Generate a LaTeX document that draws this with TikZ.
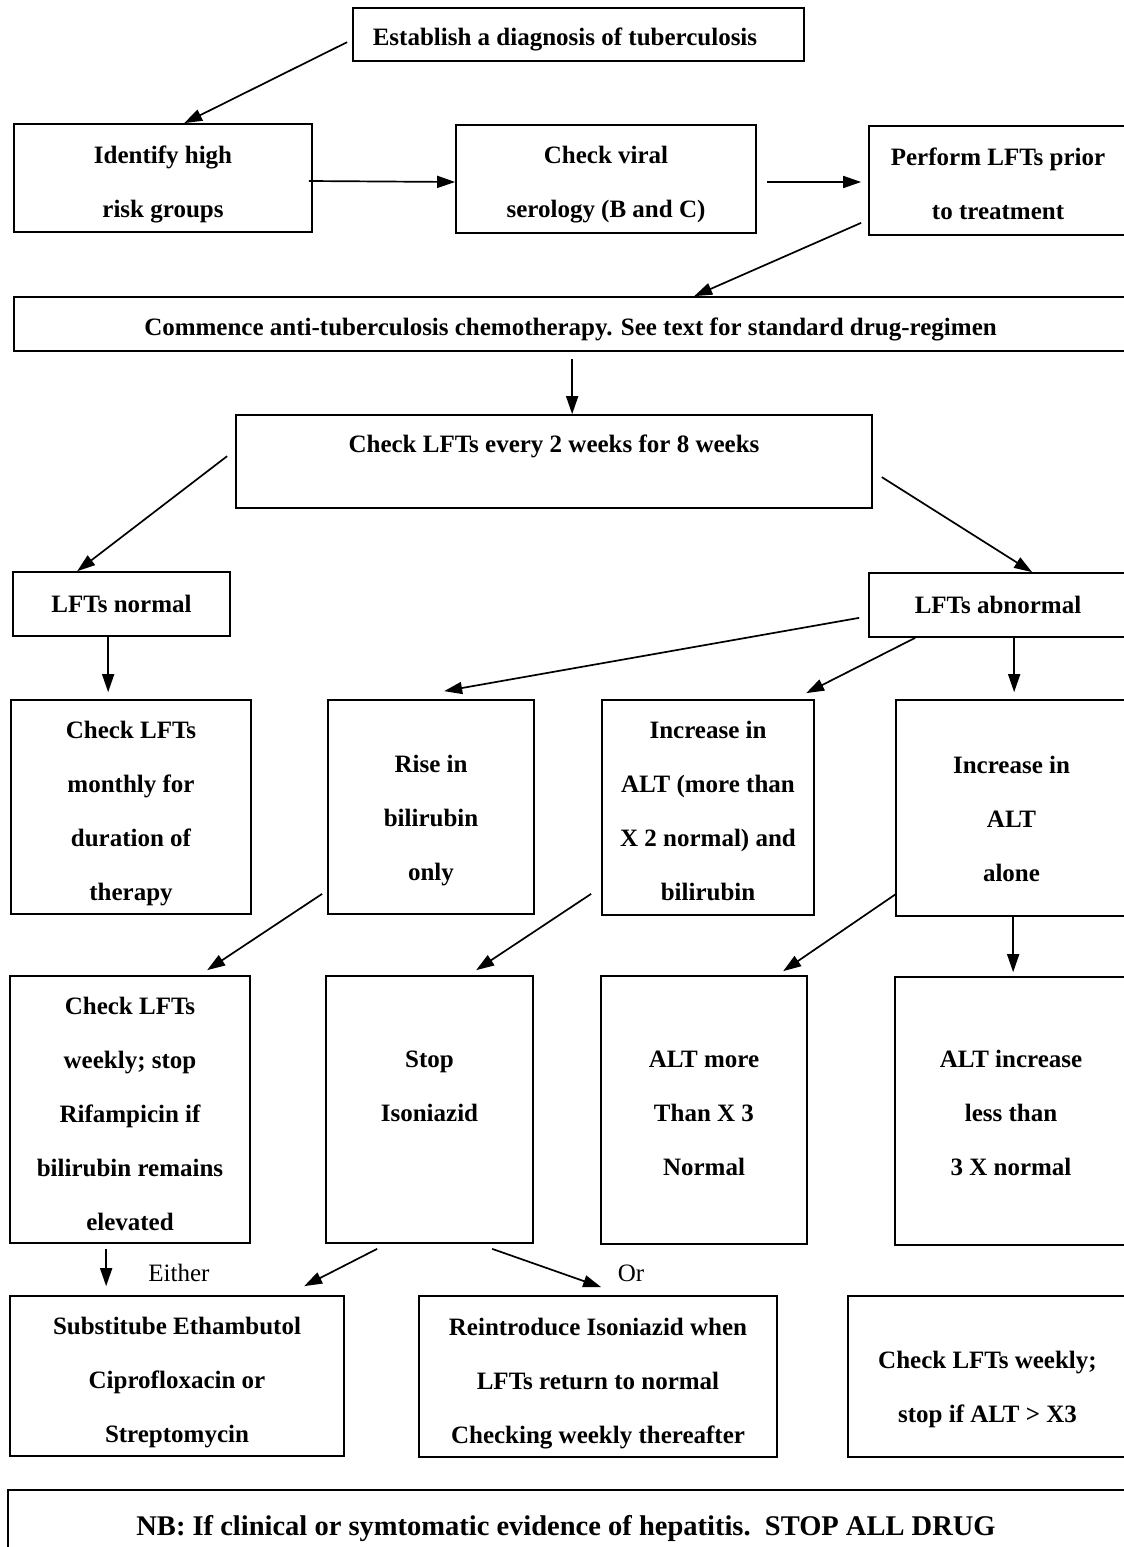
\documentclass[tikz,border=0pt]{standalone}
\usepackage{fontspec}
\setmainfont{Liberation Serif}
\usetikzlibrary{arrows.meta,calc}
\newcommand\bx[7]{\node[box,minimum width={(#4-#2)*1pt},minimum height={(#5-#3)*1pt}] (#1) at ({(#2+#4)/2},{(#3+#5)/2}) {};
  \node[lbl] (#1t) at ($(#1.center)+(0,#7)$) {#6};}
\begin{document}
\begin{tikzpicture}[x=1pt,y=-1pt,
  box/.style={draw,line width=1.7pt,inner sep=0pt},
  lbl/.style={inner sep=0pt,align=center,font=\bfseries\fontsize{25}{54}\selectfont},
  plain/.style={inner sep=0pt,font=\fontsize{25}{28}\selectfont},
  arr/.style={line width=1.7pt,-{Triangle[length=18pt,width=12pt]}}]
\useasboundingbox[fill=white] (0,0) rectangle (1124,1547);

\bx{b1}{353}{8}{804}{61}{}{0}
\node[lbl] (t1) at (565,39) {Establish a diagnosis of tuberculosis};
\bx{b2}{14}{124}{312}{232}{Identify high\\risk groups}{6}
\bx{b3}{456}{125}{756}{233}{Check viral\\serology (B and C)}{6}
\bx{b4}{869}{126}{1127}{235}{Perform LFTs prior\\to treatment}{3}
\bx{b5}{14}{297}{1127}{351}{Commence anti-tuberculosis chemotherapy. See text for standard drug-regimen}{5}
\bx{b6}{236}{415}{872}{508}{}{0}
\node[lbl] (t6) at (554,446) {Check LFTs every 2 weeks for 8 weeks};
\bx{b7}{13}{572}{230}{636}{LFTs normal}{0}
\bx{b8}{869}{573}{1127}{637}{LFTs abnormal}{0}
\bx{b9}{11}{700}{251}{914}{Check LFTs\\monthly for\\duration of\\therapy}{7}
\bx{b10}{328}{700}{534}{914}{Rise in\\bilirubin\\only}{14}
\bx{b11}{602}{700}{814}{915}{Increase in\\ALT (more than\\X 2 normal) and\\bilirubin}{3}
\bx{b12}{896}{700}{1127}{916}{Increase in\\ALT\\alone}{11}
\bx{b13}{10}{976}{250}{1243}{Check LFTs\\weekly; stop\\Rifampicin if\\bilirubin remains\\elevated}{4}
\bx{b14}{326}{976}{533}{1243}{\strut\\Stop\\Isoniazid\\\strut\\\strut}{1}
\bx{b15}{601}{976}{807}{1244}{ALT more\\Than X 3\\Normal}{3}
\bx{b16}{895}{977}{1127}{1245}{ALT increase\\less than\\3 X normal}{2}
\bx{b17}{10}{1296}{344}{1456}{Substitube Ethambutol\\Ciprofloxacin or\\Streptomycin}{7}
\bx{b18}{419}{1296}{777}{1457}{Reintroduce Isoniazid when\\LFTs return to normal\\Checking weekly thereafter}{7}
\bx{b19}{848}{1296}{1127}{1457}{Check LFTs weekly;\\stop if ALT > X3}{13}
\bx{b20}{8}{1490}{1127}{1570}{}{0}
\node[lbl,font=\bfseries\fontsize{28.5}{32}\selectfont] (t20) at (566,1529) {NB: If clinical or symtomatic evidence of hepatitis.\ \ STOP ALL DRUG};

\node[plain] (either) at (179,1273) {Either};
\node[plain] (or) at (631,1273) {Or};

\draw[arr] ($(b1.north west)+(-5,35)$) -- ($(b2.north west)+(171,0)$);
\draw[arr] ($(b2.east)+(-4,3)$) -- ($(b3.west)+(0,3)$);
\draw[arr] ($(b3.east)+(10,3)$) -- ($(b4.west)+(-7,1.5)$);
\draw[arr] ($(b4.south west)+(-7,-13)$) -- ($(b5.north west)+(681,0)$);
\draw[arr] ($(b5.south west)+(559,7)$) -- ($(b6.north west)+(337,0)$);
\draw[arr] ($(b6.north west)+(-8,42)$) -- ($(b7.north west)+(65,0)$);
\draw[arr] ($(b6.north east)+(9,63)$) -- ($(b8.north west)+(164,0)$);
\draw[arr] ($(b7.south west)+(96,0)$) -- ($(b9.north west)+(98,-7)$);
\draw[arr] ($(b8.south west)+(-9,-20)$) -- ($(b10.north west)+(117,-8)$);
\draw[arr] ($(b8.south west)+(47,0)$) -- ($(b11.north west)+(205,-6)$);
\draw[arr] ($(b8.south west)+(146,0)$) -- ($(b12.north west)+(119,-7)$);
\draw[arr] ($(b10.south west)+(-5,-21)$) -- ($(b13.north west)+(198,-5)$);
\draw[arr] ($(b11.south west)+(-10,-22)$) -- ($(b14.north west)+(151,-5)$);
\draw[arr] ($(b12.south west)+(1,-23)$) -- ($(b15.north west)+(183,-4)$);
\draw[arr] ($(b12.south west)+(118,0)$) -- ($(b16.north west)+(119,-4)$);
\draw[arr] ($(b13.south west)+(97,5)$) -- ($(b17.north west)+(97,-9)$);
\draw[arr] ($(b14.south west)+(52,5)$) -- ($(b17.north west)+(295,-9)$);
\draw[arr] ($(b14.south west)+(167,5)$) -- ($(b18.north west)+(183,-8)$);
\end{tikzpicture}
\end{document}
